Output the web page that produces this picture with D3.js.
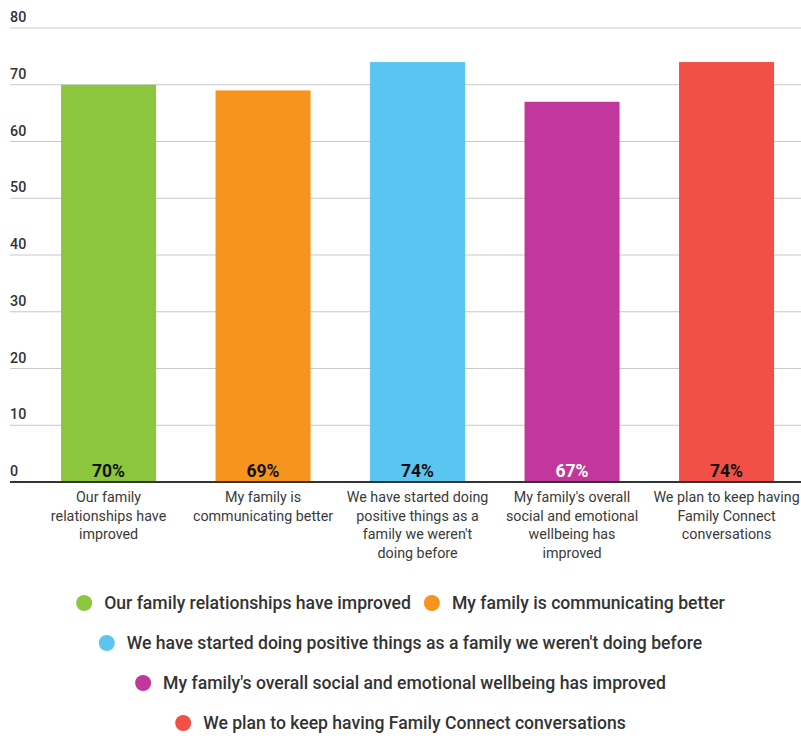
<!DOCTYPE html>
<html>
<head>
<meta charset="utf-8">
<script src="https://cdn.jsdelivr.net/npm/d3@7"></script>
<style>
  html, body { margin: 0; padding: 0; background: #fff; }
  svg { display: block; font-family: Roboto, "Noto Sans", sans-serif; }
</style>
</head>
<body>
<svg id="chart" width="801" height="738"></svg>
<script>
// Survey outcomes (percent of families agreeing)
const categories = [
  "Our family relationships have improved",
  "My family is communicating better",
  "We have started doing positive things as a family we weren't doing before",
  "My family's overall social and emotional wellbeing has improved",
  "We plan to keep having Family Connect conversations"
];
const axisLabels = [
  ["Our family", "relationships have", "improved"],
  ["My family is", "communicating better"],
  ["We have started doing", "positive things as a", "family we weren't", "doing before"],
  ["My family's overall", "social and emotional", "wellbeing has", "improved"],
  ["We plan to keep having", "Family Connect", "conversations"]
];
const values = [70, 69, 74, 67, 74];
const colors = ["#8cc63f", "#f7941d", "#5bc5f1", "#c2379b", "#f24f46"];
const valueLabelColors = ["#111", "#111", "#111", "#fff", "#111"];
const yTicks = [0, 10, 20, 30, 40, 50, 60, 70, 80];
const legendRows = [[0, 1], [2], [3], [4]];

const svg = d3.select("#chart");

const x = d3.scaleBand()
  .domain(categories)
  .range([31.3, 803.8])
  .paddingInner(0.385)
  .paddingOuter(0.1925);

const y = d3.scaleLinear()
  .domain([0, 80])
  .range([482, 28]);

// Gridlines and tick labels
const grid = svg.append("g");
grid.selectAll("line")
  .data(yTicks.filter(d => d !== 0))
  .join("line")
  .attr("x1", 10).attr("x2", 801)
  .attr("y1", d => y(d)).attr("y2", d => y(d))
  .attr("stroke", "#c8c8c8").attr("stroke-width", 1);
grid.selectAll("text")
  .data(yTicks)
  .join("text")
  .attr("x", 10)
  .attr("y", d => y(d) - 6)
  .attr("fill", "#333")
  .attr("font-size", 14.3)
  .attr("font-weight", 500)
  .text(d => d);

// Bars
svg.append("g").selectAll("rect")
  .data(categories)
  .join("rect")
  .attr("x", d => x(d))
  .attr("width", x.bandwidth())
  .attr("y", (d, i) => y(values[i]))
  .attr("height", (d, i) => y(0) - y(values[i]))
  .attr("fill", (d, i) => colors[i]);

// Value labels inside bars
svg.append("g").selectAll("text")
  .data(categories)
  .join("text")
  .attr("x", d => x(d) + x.bandwidth() / 2)
  .attr("y", y(0) - 5)
  .attr("text-anchor", "middle")
  .attr("font-size", 17.5)
  .attr("font-weight", 700)
  .attr("fill", (d, i) => valueLabelColors[i])
  .text((d, i) => values[i] + "%");

// Baseline
svg.append("line")
  .attr("x1", 10).attr("x2", 801)
  .attr("y1", y(0)).attr("y2", y(0))
  .attr("stroke", "#333").attr("stroke-width", 2);

// Category labels under the axis
const catG = svg.append("g");
categories.forEach((c, i) => {
  const t = catG.append("text")
    .attr("x", x(c) + x.bandwidth() / 2)
    .attr("y", 502)
    .attr("text-anchor", "middle")
    .attr("font-size", 14.3)
    .attr("fill", "#3a3a3a");
  axisLabels[i].forEach((line, j) => {
    t.append("tspan")
      .attr("x", x(c) + x.bandwidth() / 2)
      .attr("dy", j === 0 ? 0 : 18.6)
      .text(line);
  });
});

// Legend, centered rows
const legend = svg.append("g");
const rowY = [603, 643, 683, 723];
legendRows.forEach((row, r) => {
  const g = legend.append("g");
  let cx = 0;
  row.forEach((idx, k) => {
    if (k > 0) cx += 13;
    g.append("circle")
      .attr("cx", cx + 8).attr("cy", 0).attr("r", 8)
      .attr("fill", colors[idx]);
    const t = g.append("text")
      .attr("x", cx + 28).attr("y", 6)
      .attr("font-size", 17.6)
      .attr("font-weight", 500)
      .attr("fill", "#333")
      .text(categories[idx]);
    cx += 28 + t.node().getComputedTextLength();
  });
  g.attr("transform", `translate(${400.5 - cx / 2},${rowY[r]})`);
});
</script>
</body>
</html>
